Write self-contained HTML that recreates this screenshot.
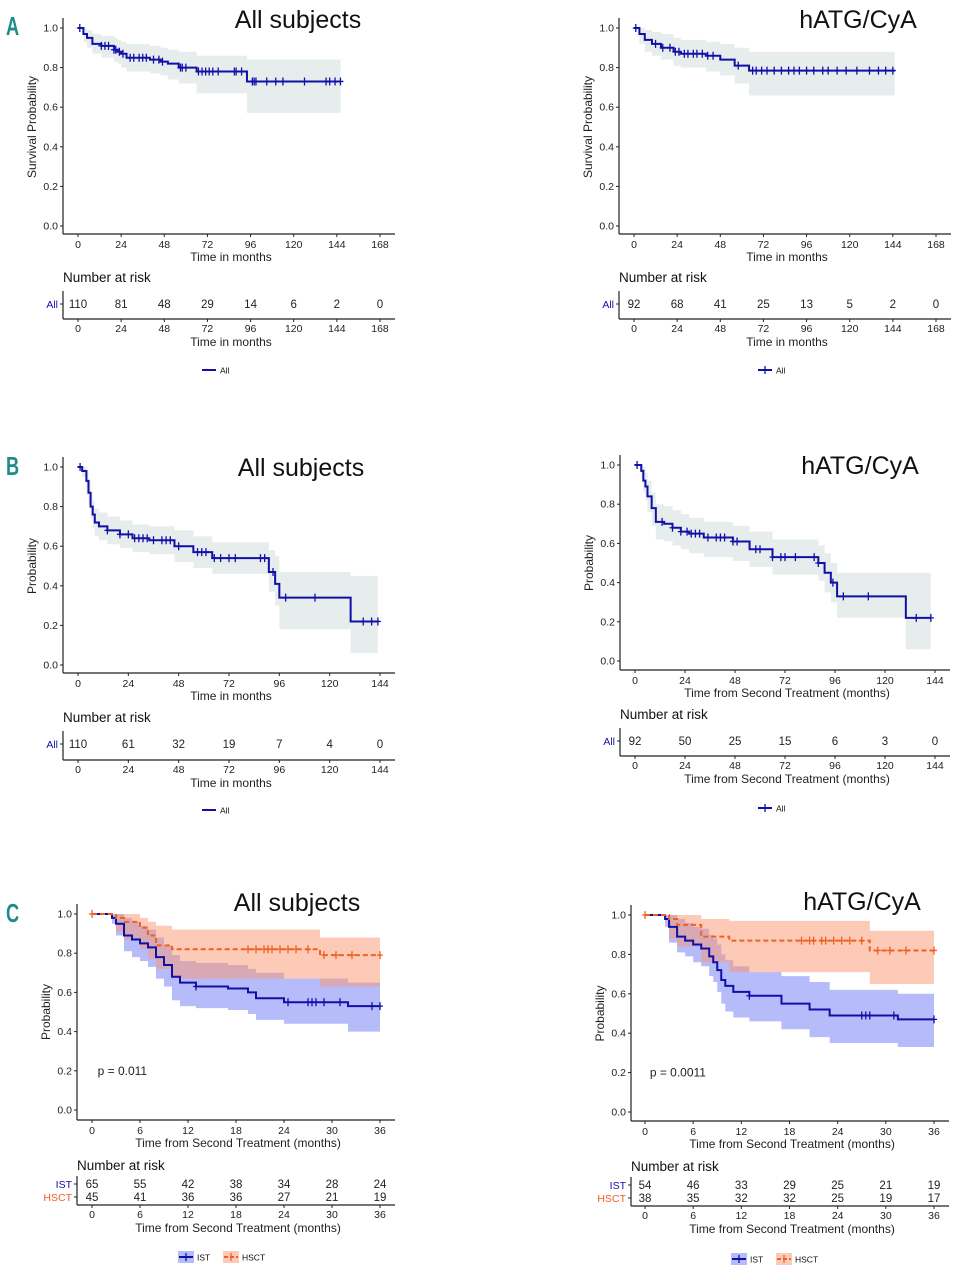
<!DOCTYPE html>
<html><head><meta charset="utf-8">
<style>
html,body{margin:0;padding:0;background:#fff;}
svg{display:block;font-family:"Liberation Sans",Arial,sans-serif;}
</style></head>
<body>
<svg id="fig" width="967" height="1280" viewBox="0 0 967 1280" xmlns="http://www.w3.org/2000/svg">
<text x="6" y="35" font-size="26" font-weight="bold" fill="#1f8c8c" transform="translate(6 0) scale(0.7 1) translate(-6 0)">A</text>
<text x="6" y="475" font-size="26" font-weight="bold" fill="#1f8c8c" transform="translate(6 0) scale(0.7 1) translate(-6 0)">B</text>
<text x="6" y="922" font-size="26" font-weight="bold" fill="#1f8c8c" transform="translate(6 0) scale(0.7 1) translate(-6 0)">C</text>
</svg>
<script>
// ---- Data: Panel A left (All subjects, overall survival)
const aAllTimes = [0,3,5,8,13,20,22,24,27,40,46,50,56,66,94];
const aAllSurv  = [1,.97,.95,.92,.91,.89,.88,.87,.85,.84,.83,.82,.80,.78,.73];
const aAllUpper = [1,1,.99,.97,.96,.95,.94,.93,.92,.91,.90,.89,.88,.86,.84];
const aAllLower = [1,.93,.90,.87,.85,.83,.82,.80,.78,.77,.76,.74,.72,.67,.57];
const aAllCens  = [1,13,15,17,20,21,23,25,29,31,34,36,38,42,45,47,57,58,60,67,69,71,73,75,78,87,88,91,97,98,99,105,110,114,126,138,140,143,146];
const aAllEnd = 146;
const aAllRisk = [110,81,48,29,14,6,2,0];
// Panel A right (hATG/CyA)
const aAtgTimes = [0,3,6,10,15,22,26,40,48,56,64];
const aAtgSurv  = [1,.97,.94,.92,.90,.88,.87,.86,.84,.81,.785];
const aAtgUpper = [1,1,.99,.98,.97,.95,.94,.93,.92,.90,.88];
const aAtgLower = [1,.92,.88,.86,.84,.81,.80,.78,.76,.72,.66];
const aAtgCens  = [1,12,16,20,23,25,28,30,33,35,38,41,44,58,66,68,71,74,78,82,86,89,92,96,100,105,108,113,118,124,131,136,140,144];
const aAtgEnd = 145;
const aAtgRisk = [92,68,41,25,13,5,2,0];
// Panel B left
const bAllTimes = [0,2,4,5,6,7,8,10,14,20,26,34,46,55,64,91,94,96,130];
const bAllSurv  = [1,.98,.93,.87,.80,.76,.72,.70,.68,.66,.64,.63,.60,.57,.54,.47,.41,.34,.22];
const bAllUpper = [1,1,.98,.93,.87,.83,.79,.77,.75,.73,.71,.70,.68,.65,.62,.58,.55,.47,.45];
const bAllLower = [1,.95,.87,.81,.74,.69,.65,.63,.61,.59,.57,.56,.52,.49,.46,.37,.30,.18,.06];
const bAllCens  = [1,14,20,24,27,29,31,33,36,40,42,44,48,57,59,61,65,68,72,75,87,89,93,99,113,136,140,143];
const bAllEnd = 143;
const bAllRisk = [110,61,32,19,7,4,0];
// Panel B right
const bAtgTimes = [0,3,4,5,6,8,10,14,18,22,26,33,47,55,66,88,91,94,97,130];
const bAtgSurv  = [1,.97,.92,.89,.84,.78,.71,.70,.68,.66,.65,.63,.61,.57,.53,.50,.45,.40,.33,.22];
const bAtgUpper = [1,1,.99,.96,.92,.86,.80,.79,.77,.75,.73,.71,.69,.66,.62,.59,.55,.50,.45,.45];
const bAtgLower = [1,.93,.86,.82,.76,.69,.62,.61,.59,.57,.55,.53,.51,.48,.44,.41,.35,.30,.22,.06];
const bAtgCens  = [1,13,18,22,25,27,29,31,35,39,41,43,47,49,58,60,66,70,72,77,86,88,95,100,112,135,142];
const bAtgEnd = 142;
const bAtgRisk = [92,50,25,15,6,3,0];
// Panel C left
const cAllIstTimes = [0,2.5,3,4,5,6,7,8,9,10,11,13,17,19.5,20.5,24,32];
const cAllIstSurv  = [1,.98,.95,.89,.87,.85,.83,.78,.74,.68,.65,.63,.62,.60,.57,.55,.53];
const cAllIstUpper = [1,1,1,.98,.96,.94,.92,.88,.84,.79,.76,.75,.74,.72,.70,.67,.65];
const cAllIstLower = [1,.95,.89,.81,.78,.76,.73,.67,.63,.56,.53,.52,.51,.49,.46,.44,.40];
const cAllIstCens  = [13,24.5,27,27.5,28,29,31,35,36];
const cAllHscTimes = [0,3,4,6,7,8,10,28.5];
const cAllHscSurv  = [1,.98,.96,.93,.89,.84,.82,.79];
const cAllHscUpper = [1,1,1,.98,.96,.94,.92,.88];
const cAllHscLower = [1,.91,.87,.82,.77,.72,.67,.63];
const cAllHscCens  = [0,19.5,20.5,21.5,22,22.5,23.5,24.5,25.5,27,29,30.5,32.5,36];
const cAllRiskIst = [65,55,42,38,34,28,24];
const cAllRiskHsc = [45,41,36,36,27,21,19];
// Panel C right
const cAtgIstTimes = [0,2.5,3,4,5,6,7,8,8.5,9,9.5,10,11,13,17,20.5,23,31.5];
const cAtgIstSurv  = [1,.98,.94,.89,.87,.85,.83,.79,.76,.72,.67,.64,.61,.59,.55,.52,.49,.47];
const cAtgIstUpper = [1,1,1,.98,.96,.94,.93,.90,.88,.85,.80,.77,.74,.71,.69,.66,.62,.60];
const cAtgIstLower = [1,.94,.86,.81,.79,.76,.74,.69,.66,.61,.55,.51,.48,.46,.42,.38,.35,.33];
const cAtgIstCens  = [13,27,27.5,28,31,36];
const cAtgHscTimes = [0,3,4,7,10.5,28];
const cAtgHscSurv  = [1,.98,.95,.89,.87,.82];
const cAtgHscUpper = [1,1,1,.98,.97,.92];
const cAtgHscLower = [1,.88,.84,.76,.71,.65];
const cAtgHscCens  = [0,19.5,20.5,21,22,22.5,23.5,24.5,25.5,27,29,30.5,32.5,36];
const cAtgRiskIst = [54,46,33,29,25,21,19];
const cAtgRiskHsc = [38,35,32,32,25,19,17];

const SVGNS = "http://www.w3.org/2000/svg";
const fig = document.getElementById('fig');
const BLUE = "#1010a8", ORANGE = "#f06020";
function el(tag, attrs, parent, txt){
  const e = document.createElementNS(SVGNS, tag);
  for (const k in attrs) e.setAttribute(k, attrs[k]);
  if (txt !== undefined) e.textContent = txt;
  (parent || fig).appendChild(e);
  return e;
}
function stepPath(sx, sy, times, surv, end){
  let d = "M" + sx(times[0]) + "," + sy(surv[0]);
  for (let i = 1; i < times.length; i++) d += " H" + sx(times[i]) + " V" + sy(surv[i]);
  d += " H" + sx(end);
  return d;
}
function bandPath(sx, sy, times, up, lo, end){
  let d = "M" + sx(times[0]) + "," + sy(up[0]);
  for (let i = 1; i < times.length; i++) d += " H" + sx(times[i]) + " V" + sy(up[i]);
  d += " H" + sx(end) + " V" + sy(lo[lo.length-1]);
  for (let i = times.length - 1; i >= 1; i--) d += " H" + sx(times[i]) + " V" + sy(lo[i-1]);
  d += " H" + sx(times[0]) + " Z";
  return d;
}
function stepVal(times, surv, t){
  let v = surv[0];
  for (let i = 0; i < times.length; i++) if (times[i] <= t) v = surv[i];
  return v;
}
function panel(c){
  const g = el('g', {});
  
  
  const sx = t => c.x0 + (c.x1 - c.x0) * t / c.tmax;
  const sy = p => c.y0 + (c.y1 - c.y0) * p;
  c.series.forEach(s => {
    const b = el('path', {d: bandPath(sx, sy, s.times, s.upper, s.lower, s.end), fill: s.band, stroke: 'none'}, g);
    
    
  });
  c.series.forEach(s => {
    const p = el('path', {d: stepPath(sx, sy, s.times, s.surv, s.end), fill: 'none', stroke: s.color, 'stroke-width': 2, 'stroke-dasharray': s.dash || 'none'}, g);
    
    
    s.cens.forEach(t => {
      const y = sy(stepVal(s.times, s.surv, t));
      const m = el('path', {d: "M" + sx(t) + "," + (y-4) + " V" + (y+4) + " M" + (sx(t)-3) + "," + y + " H" + (sx(t)+3), stroke: s.color, 'stroke-width': 1.3}, g);
      
      
    });
  });
  el('line', {x1: c.ax, y1: c.y1 - 10, x2: c.ax, y2: c.ay, stroke: '#222', 'stroke-width': 1.2}, g);
  el('line', {x1: c.ax, y1: c.ay, x2: c.x1 + 15, y2: c.ay, stroke: '#222', 'stroke-width': 1.2}, g);
  [0, .2, .4, .6, .8, 1].forEach(p => {
    el('line', {x1: c.ax - 3, y1: sy(p), x2: c.ax, y2: sy(p), stroke: '#222'}, g);
    const t = el('text', {x: c.ax - 5, y: sy(p) + 3.5, 'font-size': 10.5, 'text-anchor': 'end', fill: '#222'}, g, p.toFixed(1));
    
    
  });
  for (let t = 0; t <= c.tmax; t += c.tstep) {
    el('line', {x1: sx(t), y1: c.ay, x2: sx(t), y2: c.ay + 3, stroke: '#222'}, g);
    const tx = el('text', {x: sx(t), y: c.ay + 14, 'font-size': 10.5, 'text-anchor': 'middle', fill: '#222'}, g, String(t));
    
    
  }
  const xt = el('text', {x: (c.ax + c.x1 + 15) / 2 + 2, y: c.ay + 27, 'font-size': 12, 'text-anchor': 'middle', fill: '#222'}, g, c.xtitle);
  
  
  const yx = c.ax - 27, yy = (c.y0 + c.y1) / 2;
  const yt = el('text', {x: yx, y: yy, 'font-size': 12, 'text-anchor': 'middle', fill: '#222', transform: 'rotate(-90 ' + yx + ' ' + yy + ')'}, g, c.ytitle);
  
  
  const tt = el('text', {x: c.titleX, y: c.titleY, 'font-size': 25, 'text-anchor': 'middle', fill: '#111'}, g, c.title);
  
  
  if (c.pval) {
    const pv = el('text', {x: sx(c.pvalT), y: sy(0.2) + 4, 'font-size': 12, fill: '#222'}, g, c.pval);
    
    
  }
  const nr = el('text', {x: c.ax, y: c.narY, 'font-size': 13.5, fill: '#111'}, g, 'Number at risk');
  
  
  el('line', {x1: c.ax, y1: c.riskTop, x2: c.ax, y2: c.riskAxis, stroke: '#222', 'stroke-width': 1.2}, g);
  el('line', {x1: c.ax, y1: c.riskAxis, x2: c.x1 + 15, y2: c.riskAxis, stroke: '#222', 'stroke-width': 1.2}, g);
  c.rows.forEach(r => {
    const lab = el('text', {x: c.ax - 5, y: r.y + 4, 'font-size': 10.5, 'text-anchor': 'end', fill: r.color}, g, r.label);
    
    
    el('line', {x1: c.ax - 3, y1: r.y, x2: c.ax, y2: r.y, stroke: '#222'}, g);
    r.vals.forEach((v, i) => {
      const tx = el('text', {x: sx(i * c.tstep), y: r.y + 4, 'font-size': 11.5, 'text-anchor': 'middle', fill: '#222'}, g, String(v));
      
      
    });
  });
  for (let t = 0; t <= c.tmax; t += c.tstep) {
    el('line', {x1: sx(t), y1: c.riskAxis, x2: sx(t), y2: c.riskAxis + 3, stroke: '#222'}, g);
    const tx = el('text', {x: sx(t), y: c.riskAxis + 13, 'font-size': 10.5, 'text-anchor': 'middle', fill: '#222'}, g, String(t));
    
    
  }
  const rt = el('text', {x: (c.ax + c.x1 + 15) / 2 + 2, y: c.riskAxis + 27, 'font-size': 12, 'text-anchor': 'middle', fill: '#222'}, g, c.xtitle);
  
  
  let lx = c.legX;
  c.series.forEach(s => {
    const lg = el('g', {}, g);
    
    
    if (c.series.length > 1) el('rect', {x: lx, y: c.legY - 6, width: 16, height: 12, fill: s.band}, lg);
    el('line', {x1: lx + 1, y1: c.legY, x2: lx + 15, y2: c.legY, stroke: s.color, 'stroke-width': 2, 'stroke-dasharray': s.dash ? '4,2' : 'none'}, lg);
    if (c.series.length > 1 || c.legCross) el('line', {x1: lx + 8, y1: c.legY - 4, x2: lx + 8, y2: c.legY + 4, stroke: s.color, 'stroke-width': 1.3}, lg);
    el('text', {x: lx + 19, y: c.legY + 3.5, 'font-size': 8.5, fill: '#111'}, lg, s.label);
    lx += 19 + s.label.length * 6 + 8;
  });
}
const GRAY = "#e7eded", BLUEBAND = "rgba(110,120,245,0.5)", ORBAND = "rgba(250,150,110,0.5)";
panel({name:'panel-a-all-subjects', x0:78, x1:380, tmax:168, tstep:24, y0:226, y1:28, ax:63, ay:234,
  xtitle:'Time in months', ytitle:'Survival Probability', title:'All subjects', titleX:298, titleY:28,
  narY:282, riskTop:291, riskAxis:319, rows:[{label:'All', color:BLUE, y:304, vals:aAllRisk}], legX:201, legY:370,
  series:[{key:'all', label:'All', times:aAllTimes, surv:aAllSurv, upper:aAllUpper, lower:aAllLower, cens:aAllCens, end:aAllEnd, color:BLUE, band:GRAY}]});
panel({name:'panel-a-hatg-cya', x0:634, x1:936, tmax:168, tstep:24, y0:226, y1:28, ax:619, ay:234,
  xtitle:'Time in months', ytitle:'Survival Probability', title:'hATG/CyA', titleX:858, titleY:28,
  narY:282, riskTop:291, riskAxis:319, rows:[{label:'All', color:BLUE, y:304, vals:aAtgRisk}], legX:757, legY:370, legCross:true,
  series:[{key:'all', label:'All', times:aAtgTimes, surv:aAtgSurv, upper:aAtgUpper, lower:aAtgLower, cens:aAtgCens, end:aAtgEnd, color:BLUE, band:GRAY}]});
panel({name:'panel-b-all-subjects', x0:78, x1:380, tmax:144, tstep:24, y0:665, y1:467, ax:63, ay:673,
  xtitle:'Time in months', ytitle:'Probability', title:'All subjects', titleX:301, titleY:476,
  narY:722, riskTop:731, riskAxis:760, rows:[{label:'All', color:BLUE, y:744, vals:bAllRisk}], legX:201, legY:810,
  series:[{key:'all', label:'All', times:bAllTimes, surv:bAllSurv, upper:bAllUpper, lower:bAllLower, cens:bAllCens, end:bAllEnd, color:BLUE, band:GRAY}]});
panel({name:'panel-b-hatg-cya', x0:635, x1:935, tmax:144, tstep:24, y0:661, y1:465, ax:620, ay:670,
  xtitle:'Time from Second Treatment (months)', ytitle:'Probability', title:'hATG/CyA', titleX:860, titleY:474,
  narY:719, riskTop:728, riskAxis:756, rows:[{label:'All', color:BLUE, y:741, vals:bAtgRisk}], legX:757, legY:808, legCross:true,
  series:[{key:'all', label:'All', times:bAtgTimes, surv:bAtgSurv, upper:bAtgUpper, lower:bAtgLower, cens:bAtgCens, end:bAtgEnd, color:BLUE, band:GRAY}]});
panel({name:'panel-c-all-subjects', x0:92, x1:380, tmax:36, tstep:6, y0:1110, y1:914, ax:77, ay:1120,
  xtitle:'Time from Second Treatment (months)', ytitle:'Probability', title:'All subjects', titleX:297, titleY:911,
  pval:'p = 0.011', pvalT:0.7,
  narY:1170, riskTop:1176, riskAxis:1205, rows:[{label:'IST', color:BLUE, y:1184, vals:cAllRiskIst},{label:'HSCT', color:ORANGE, y:1197, vals:cAllRiskHsc}], legX:178, legY:1257,
  series:[{key:'ist', label:'IST', times:cAllIstTimes, surv:cAllIstSurv, upper:cAllIstUpper, lower:cAllIstLower, cens:cAllIstCens, end:36, color:BLUE, band:BLUEBAND},
          {key:'hsct', label:'HSCT', times:cAllHscTimes, surv:cAllHscSurv, upper:cAllHscUpper, lower:cAllHscLower, cens:cAllHscCens, end:36, color:ORANGE, band:ORBAND, dash:'5,3'}]});
panel({name:'panel-c-hatg-cya', x0:645, x1:934, tmax:36, tstep:6, y0:1112, y1:915, ax:631, ay:1121,
  xtitle:'Time from Second Treatment (months)', ytitle:'Probability', title:'hATG/CyA', titleX:862, titleY:910,
  pval:'p = 0.0011', pvalT:0.6,
  narY:1171, riskTop:1177, riskAxis:1206, rows:[{label:'IST', color:BLUE, y:1185, vals:cAtgRiskIst},{label:'HSCT', color:ORANGE, y:1198, vals:cAtgRiskHsc}], legX:731, legY:1259,
  series:[{key:'ist', label:'IST', times:cAtgIstTimes, surv:cAtgIstSurv, upper:cAtgIstUpper, lower:cAtgIstLower, cens:cAtgIstCens, end:36, color:BLUE, band:BLUEBAND},
          {key:'hsct', label:'HSCT', times:cAtgHscTimes, surv:cAtgHscSurv, upper:cAtgHscUpper, lower:cAtgHscLower, cens:cAtgHscCens, end:36, color:ORANGE, band:ORBAND, dash:'5,3'}]});
</script>
</body></html>
